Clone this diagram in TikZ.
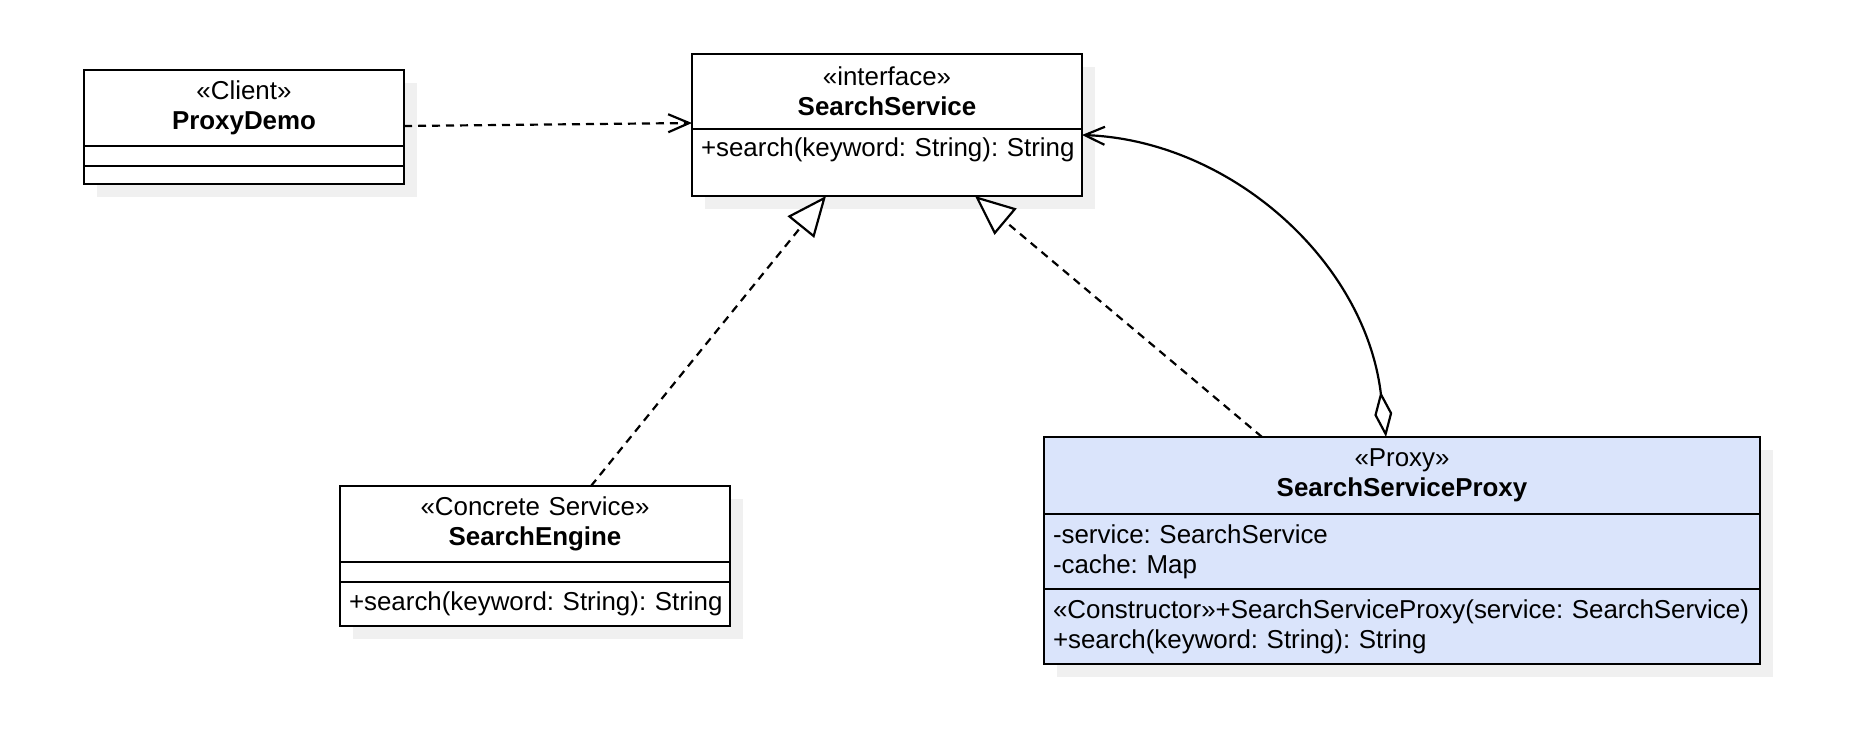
\documentclass[tikz,border=0pt]{standalone}
\usepackage{fontspec}
\setmainfont{Liberation Sans}
\usepackage{tikz}
\usetikzlibrary{positioning, calc, arrows.meta, shadows}

\definecolor{proxyblue}{RGB}{218,228,251}
\definecolor{shadowgray}{RGB}{240,240,240}
\frenchspacing
\hyphenpenalty=10000

\begin{document}
\begin{tikzpicture}[x=1pt,y=-1pt,line width=2.2pt,
		classshadow/.style={drop shadow={shadow xshift=13pt,shadow yshift=-13pt,fill=shadowgray,opacity=1}},
		classhead/.style={draw,fill=white,outer sep=0pt,inner sep=0pt,align=center,font=\fontsize{25.9}{30}\selectfont,classshadow},
		classpart/.style={draw,fill=white,outer sep=0pt,inner xsep=9pt,inner ysep=0pt,align=left,font=\fontsize{25.9}{30}\selectfont,classshadow},
		depline/.style={dash pattern=on 8pt off 6pt,-{Straight Barb[length=21pt,width=18pt]}},
		realline/.style={dash pattern=on 8pt off 6pt,-{Triangle[length=40pt,width=34pt,fill=white]}},
		aggline/.style={{Diamond[length=46pt,width=18pt,fill=white]}-{Straight Barb[length=20pt,width=18pt]}}]
		\useasboundingbox (0,0) rectangle (1858,734);

		%Shape: Class ProxyDemo
		\node [classhead,anchor=north west,text width=320pt,minimum height=76pt] (demohead) at (84,70) {«Client»\\\textbf{ProxyDemo}};
		\node [classpart,below=0pt of demohead,text width=302pt,minimum height=20pt] (demoattr) {};
		\node [classpart,below=0pt of demoattr,text width=302pt,minimum height=18pt] (demometh) {};

		%Shape: Interface SearchService
		\node [classhead,anchor=north west,text width=390pt,minimum height=75pt] (svchead) at (692,54) {«interface»\\\textbf{SearchService}};
		\node [classpart,below=0pt of svchead,text width=372pt,minimum height=67pt] (svcmeth) {\mbox{+search(keyword: String): String}\\~};

		%Shape: Class SearchEngine
		\node [classhead,anchor=north west,text width=390pt,minimum height=76pt] (enginehead) at (340,486) {«Concrete Service»\\\textbf{SearchEngine}};
		\node [classpart,below=0pt of enginehead,text width=372pt,minimum height=20pt] (engineattr) {};
		\node [classpart,below=0pt of engineattr,text width=372pt,minimum height=44pt] (enginemeth) {\mbox{+search(keyword: String): String}};

		%Shape: Class SearchServiceProxy
		\node [classhead,fill=proxyblue,anchor=north west,text width=716pt,minimum height=77pt] (proxyhead) at (1044,437) {«Proxy»\\\textbf{SearchServiceProxy}};
		\node [classpart,fill=proxyblue,below=0pt of proxyhead,text width=698pt,minimum height=75pt] (proxyattr) {-service: SearchService\\-cache: Map};
		\node [classpart,fill=proxyblue,below=0pt of proxyattr,text width=698pt,minimum height=75pt] (proxymeth) {\mbox{«Constructor»+SearchServiceProxy(service: SearchService)}\\+search(keyword: String): String};

		%Straight Lines: dependency
		\draw [depline] ($(demohead.east)+(0,18)$) -- ($(svchead.south west)+(0,-6)$);
		%Straight Lines: realizations
		\draw [realline] ($(enginehead.north)+(56,0)$) -- ($(svcmeth.south)+(-61,0)$);
		\draw [realline] ($(proxyhead.north)+(-140,0)$) -- ($(svcmeth.south)+(88,0)$);
		%Curve Lines: aggregation
		\draw [aggline] ($(proxyhead.north)+(-16,0)$) .. controls +(-21,-177) and +(147,5) .. ($(svcmeth.north east)+(0,6)$);

\end{tikzpicture}
\end{document}
